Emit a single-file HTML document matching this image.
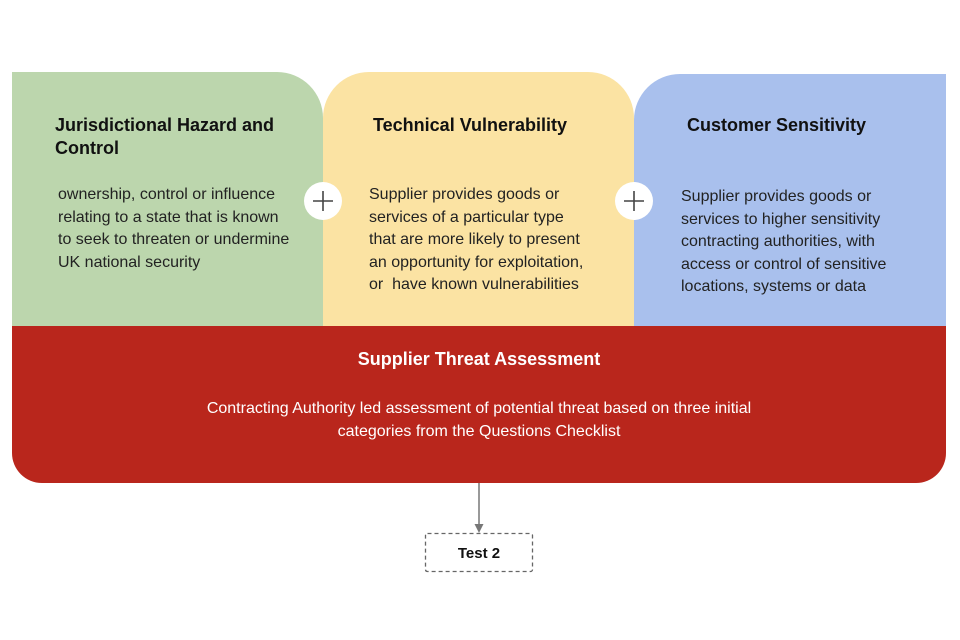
<!DOCTYPE html>
<html><head><style>
body{margin:0;width:960px;height:640px;background:#fff;position:relative;overflow:hidden;font-family:"Liberation Sans",Arial,sans-serif;color:#222}
.a{position:absolute;white-space:nowrap}
.h{font-weight:bold;font-size:18px;line-height:23px;color:#111}
.t{font-size:16px;line-height:22.5px;color:#222}
.plus{position:absolute;width:38px;height:38px;border-radius:50%;background:#fff}
</style></head><body>
<div class="a" style="left:12px;top:72px;width:311px;height:254px;background:#bcd6ad;border-top-right-radius:46px"></div>
<div class="a" style="left:323px;top:72px;width:311px;height:254px;background:#fbe3a3;border-top-left-radius:46px;border-top-right-radius:46px"></div>
<div class="a" style="left:634px;top:74px;width:312px;height:252px;background:#a9c0ed;border-top-left-radius:46px"></div>
<div class="a" style="left:12px;top:326px;width:934px;height:157px;background:#b9261c;border-bottom-left-radius:30px;border-bottom-right-radius:30px"></div>

<div class="a h" style="left:55px;top:114px">Jurisdictional Hazard and<br>Control</div>
<div class="a t" style="left:58px;top:184px">ownership, control or influence<br>relating to a state that is known<br>to seek to threaten or undermine<br>UK national security</div>

<div class="a h" style="left:373px;top:114px">Technical Vulnerability</div>
<div class="a t" style="left:369px;top:184px">Supplier provides goods or<br>services of a particular type<br>that are more likely to present<br>an opportunity for exploitation,<br>or&nbsp; have known vulnerabilities</div>

<div class="a h" style="left:687px;top:114px">Customer Sensitivity</div>
<div class="a t" style="left:681px;top:186px">Supplier provides goods or<br>services to higher sensitivity<br>contracting authorities, with<br>access or control of sensitive<br>locations, systems or data</div>

<div class="plus" style="left:304px;top:182px"></div>
<div class="plus" style="left:615px;top:182px"></div>

<div class="a h" style="left:12px;top:348px;width:934px;text-align:center;color:#fff">Supplier Threat Assessment</div>
<div class="a t" style="left:12px;top:398px;width:934px;text-align:center;color:#fff">Contracting Authority led assessment of potential threat based on three initial<br>categories from the Questions Checklist</div>

<svg class="a" style="left:0;top:0" width="960" height="640">
<g stroke="#444" stroke-width="1.6"><line x1="313" y1="201" x2="333" y2="201"/><line x1="323" y1="191" x2="323" y2="211"/>
<line x1="624" y1="201" x2="644" y2="201"/><line x1="634" y1="191" x2="634" y2="211"/></g>
<line x1="479" y1="483" x2="479" y2="526" stroke="#777" stroke-width="1.5"/>
<polygon points="474.5,524 483.5,524 479,533" fill="#777"/>
<rect x="425.5" y="533.5" width="107" height="38" rx="2" fill="none" stroke="#666" stroke-width="1.3" stroke-dasharray="4,3"/>
<text x="479" y="558" text-anchor="middle" font-family="Liberation Sans,Arial,sans-serif" font-weight="bold" font-size="15" fill="#111">Test 2</text>
</svg>
</body></html>
